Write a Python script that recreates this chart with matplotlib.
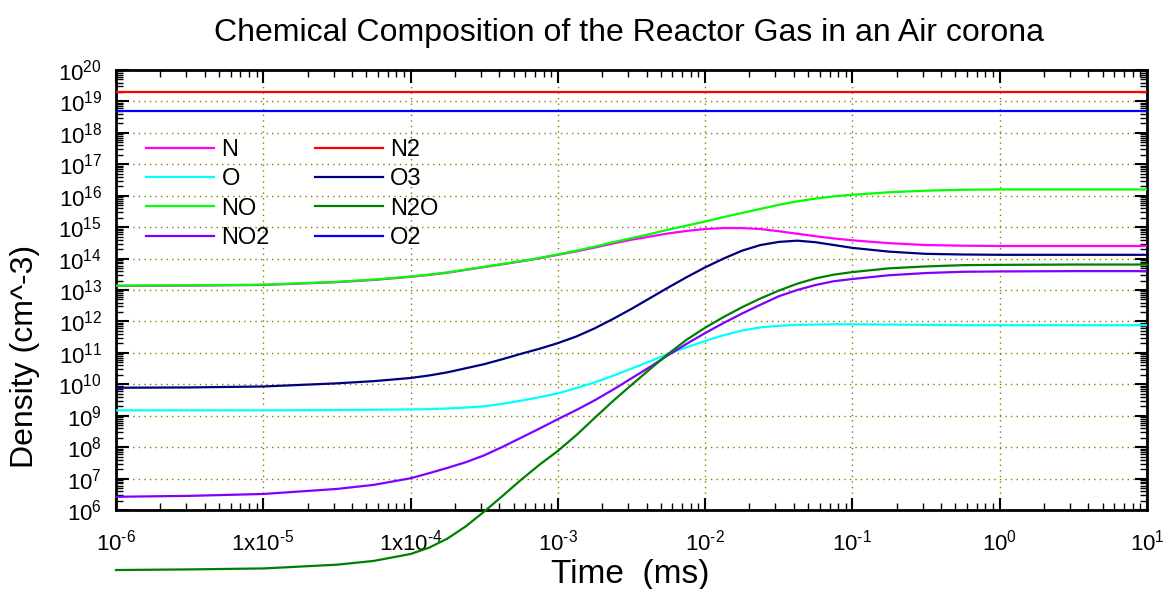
import numpy as np
import matplotlib
matplotlib.use("Agg")
import matplotlib.pyplot as plt
from matplotlib.ticker import FixedLocator, FixedFormatter, LogLocator, NullFormatter

plt.rcParams['font.family'] = ['Liberation Sans', 'DejaVu Sans']
plt.rcParams['mathtext.fontset'] = 'custom'
plt.rcParams['mathtext.rm'] = 'Liberation Sans'
plt.rcParams['mathtext.it'] = 'Liberation Sans'
plt.rcParams['mathtext.bf'] = 'Liberation Sans:bold'
plt.rcParams['axes.unicode_minus'] = False

# ---- data: time (ms) and densities (cm^-3) as log10 values ----
log_time = [-6, -5.5, -5, -4.5, -4.25, -4, -3.875, -3.75, -3.625, -3.5, -3.375, -3.25, -3.125,
            -3, -2.875, -2.75, -2.625, -2.5, -2.375, -2.25, -2.125, -2, -1.875, -1.75, -1.625,
            -1.5, -1.375, -1.25, -1.125, -1, -0.75, -0.5, -0.25, 0, 0.5, 1]
log_N   = [13.13, 13.14, 13.16, 13.25, 13.32, 13.42, 13.48, 13.55, 13.64, 13.73, 13.82, 13.91, 14.01,
           14.12, 14.23, 14.35, 14.48, 14.60, 14.70, 14.80, 14.88, 14.94, 14.97, 14.97, 14.94,
           14.87, 14.79, 14.71, 14.64, 14.58, 14.49, 14.43, 14.41, 14.40, 14.40, 14.40]
log_NO  = [13.14, 13.15, 13.17, 13.26, 13.33, 13.43, 13.49, 13.56, 13.65, 13.74, 13.83, 13.92, 14.02,
           14.13, 14.25, 14.38, 14.52, 14.65, 14.78, 14.92, 15.05, 15.18, 15.32, 15.45, 15.58,
           15.71, 15.82, 15.91, 15.98, 16.03, 16.11, 16.16, 16.19, 16.20, 16.20, 16.20]
log_O   = [9.17, 9.17, 9.17, 9.18, 9.19, 9.20, 9.21, 9.23, 9.26, 9.30, 9.38, 9.48, 9.59,
           9.71, 9.88, 10.06, 10.27, 10.50, 10.73, 10.97, 11.18, 11.38, 11.56, 11.71, 11.81,
           11.86, 11.89, 11.90, 11.91, 11.91, 11.90, 11.89, 11.88, 11.88, 11.88, 11.88]
log_O3  = [9.89, 9.90, 9.93, 10.03, 10.10, 10.20, 10.28, 10.38, 10.51, 10.64, 10.80, 10.97, 11.13,
           11.31, 11.52, 11.78, 12.08, 12.40, 12.74, 13.08, 13.41, 13.72, 14.00, 14.25, 14.43,
           14.53, 14.57, 14.52, 14.43, 14.34, 14.22, 14.15, 14.13, 14.12, 14.12, 14.12]
log_NO2 = [6.42, 6.45, 6.51, 6.67, 6.80, 7.01, 7.17, 7.34, 7.52, 7.74, 8.01, 8.30, 8.59,
           8.89, 9.18, 9.49, 9.83, 10.19, 10.55, 10.93, 11.29, 11.63, 11.95, 12.25, 12.53,
           12.80, 13.00, 13.16, 13.28, 13.35, 13.47, 13.54, 13.58, 13.59, 13.60, 13.60]
log_N2O = [4.09, 4.11, 4.14, 4.26, 4.38, 4.60, 4.80, 5.09, 5.48, 5.95, 6.45, 6.96, 7.44,
           7.88, 8.38, 8.93, 9.47, 9.98, 10.48, 10.97, 11.42, 11.80, 12.14, 12.45, 12.73,
           12.98, 13.20, 13.37, 13.49, 13.57, 13.69, 13.75, 13.79, 13.80, 13.81, 13.81]
log_N2  = [19.30] * len(log_time)
log_O2  = [18.69] * len(log_time)

species = ['N', 'O', 'NO', 'NO2', 'N2', 'O3', 'N2O', 'O2']
series = {'N': log_N, 'O': log_O, 'NO': log_NO, 'NO2': log_NO2,
          'N2': log_N2, 'O3': log_O3, 'N2O': log_N2O, 'O2': log_O2}
colors = {'N': '#FF00FF', 'O': '#00FFFF', 'NO': '#00FF00', 'NO2': '#8000FF',
          'N2': '#FF0000', 'O3': '#000080', 'N2O': '#008000', 'O2': '#0000FF'}

x_ticks = [1e-6, 1e-5, 1e-4, 1e-3, 1e-2, 1e-1, 1e0, 1e1]
x_ticklabels = [r'$\mathrm{10^{\text{-}6}}$', r'$\mathrm{1x10^{\text{-}5}}$', r'$\mathrm{1x10^{\text{-}4}}$',
                r'$\mathrm{10^{\text{-}3}}$', r'$\mathrm{10^{\text{-}2}}$', r'$\mathrm{10^{\text{-}1}}$',
                r'$\mathrm{10^{0}}$', r'$\mathrm{10^{1}}$']
y_exponents = list(range(6, 21))

fig = plt.figure(figsize=(11.64, 5.89), dpi=100)
ax = fig.add_axes([116/1164, 1-510/589, (1147-116)/1164, (510-70)/589])

t = 10.0 ** np.array(log_time)
for sp in species:
    ax.plot(t, 10.0 ** np.array(series[sp]), color=colors[sp], lw=1.6, label=sp,
            clip_on=(sp != 'N2O'), zorder=3, solid_joinstyle='round')

ax.set_xscale('log')
ax.set_yscale('log')
ax.set_xlim(1e-6, 10)
ax.set_ylim(1e6, 1e20)

ax.xaxis.set_major_locator(FixedLocator(x_ticks))
ax.xaxis.set_major_formatter(FixedFormatter(x_ticklabels))
ax.xaxis.set_minor_locator(LogLocator(base=10, subs=np.arange(2, 10), numticks=50))
ax.xaxis.set_minor_formatter(NullFormatter())
ax.yaxis.set_major_locator(FixedLocator([10.0 ** e for e in y_exponents]))
ax.yaxis.set_major_formatter(FixedFormatter([r'$\mathrm{10^{%d}}$' % e for e in y_exponents]))
ax.yaxis.set_minor_locator(LogLocator(base=10, subs=np.arange(2, 10), numticks=50))
ax.yaxis.set_minor_formatter(NullFormatter())

ax.tick_params(which='both', direction='in', top=True, right=True, width=1.5, labelsize=16)
ax.tick_params(which='major', length=9)
ax.tick_params(which='minor', length=5, width=1.0)
ax.tick_params(axis='x', which='major', pad=14)
ax.tick_params(axis='y', which='major', pad=10)
for s in ax.spines.values():
    s.set_linewidth(2.0)

ax.grid(True, which='major', color='#808000', ls=(0, (1, 3)), lw=1.0, zorder=1)

ax.legend(loc='upper left', bbox_to_anchor=(0.029, 0.843), ncol=2, frameon=False,
          fontsize=17, handlelength=2.9, handletextpad=0.3, columnspacing=1.9,
          labelspacing=0.31, borderaxespad=0, borderpad=0)

fig.text(629/1164, 1-33/589, 'Chemical Composition of the Reactor Gas in an Air corona',
         ha='center', va='center', fontsize=23)
fig.text(25/1164, 1-356/589, 'Density (cm^-3)', rotation=90, ha='center', va='center', fontsize=23)
fig.text(630/1164, 1-574/589, 'Time  (ms)', ha='center', va='center', fontsize=24)

fig.savefig('out.png', dpi=100)
